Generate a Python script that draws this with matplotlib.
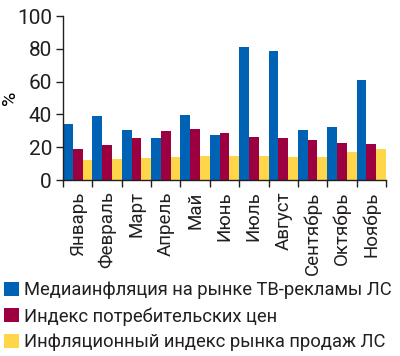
import matplotlib
matplotlib.use('Agg')
import matplotlib.pyplot as plt
import numpy as np

months = ['Январь', 'Февраль', 'Март', 'Апрель', 'Май', 'Июнь',
          'Июль', 'Август', 'Сентябрь', 'Октябрь', 'Ноябрь']
media_infl = [34.3, 38.8, 30.3, 25.4, 39.6, 27.4, 80.9, 78.4, 30.3, 32.5, 61.0]
cpi = [19.1, 21.3, 25.8, 29.9, 30.9, 28.8, 26.2, 25.6, 24.4, 22.7, 21.8]
drug_infl = [12.2, 12.8, 13.6, 14.2, 14.8, 14.6, 14.8, 14.4, 14.0, 17.1, 18.9]
series_names = ['Медиаинфляция на рынке ТВ-рекламы ЛС',
                'Индекс потребительских цен',
                'Инфляционный индекс рынка продаж ЛС']
colors = ['#0062b4', '#9c0040', '#ffd54a']

plt.rcParams['font.family'] = ['Roboto', 'DejaVu Sans']
plt.rcParams['text.color'] = '#231f20'
plt.rcParams['xtick.color'] = '#231f20'
plt.rcParams['ytick.color'] = '#231f20'

fig = plt.figure(figsize=(4, 3.56), dpi=100)
ax = fig.add_axes([0.1575, 0.494, 0.8075, 0.461])

x = np.arange(len(months))
w = 1 / 3
for i, (vals, name) in enumerate(zip([media_infl, cpi, drug_infl], series_names)):
    ax.bar(x - 0.5 + w * (i + 0.5), vals, width=w, color=colors[i],
           label=name, linewidth=0)

ax.set_xlim(-0.5, len(months) - 0.5)
ax.set_ylim(0, 100)
ax.set_yticks([0, 20, 40, 60, 80, 100])
ax.tick_params(axis='y', length=5, width=1, labelsize=15, pad=3)
ax.set_xticks(x)
ax.set_xticklabels(months, rotation=90, fontsize=13.5)
ax.tick_params(axis='x', length=0, pad=8)
ax.set_xticks(np.arange(len(months) + 1) - 0.5, minor=True)
ax.tick_params(axis='x', which='minor', length=5, width=1)
ax.set_ylabel('%', fontsize=14, va='center')
ax.yaxis.set_label_coords(-0.165, 0.5)

for s in ['top', 'right']:
    ax.spines[s].set_visible(False)
for s in ['left', 'bottom']:
    ax.spines[s].set_color('#231f20')
    ax.spines[s].set_linewidth(1)

fig.legend(loc='upper left', bbox_to_anchor=(-0.008, 0.23), frameon=False,
           fontsize=13.2, handlelength=0.8, handleheight=0.8, handletextpad=0.3,
           labelspacing=0.42, borderaxespad=0)

fig.savefig('out.png', dpi=100)
